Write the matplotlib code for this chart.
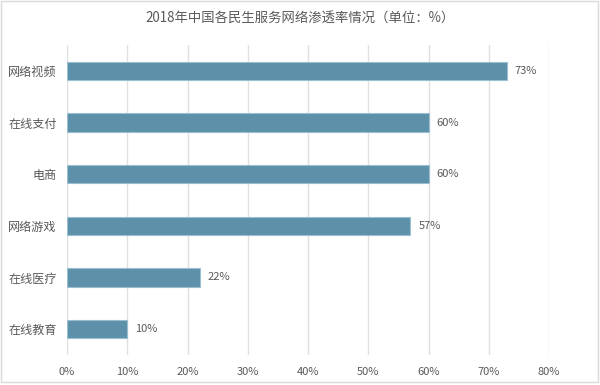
import matplotlib
matplotlib.use("Agg")
import matplotlib.pyplot as plt
from matplotlib.patches import Rectangle

plt.rcParams['font.family'] = ['Noto Sans CJK SC', 'DejaVu Sans']

categories = ["网络视频", "在线支付", "电商", "网络游戏", "在线医疗", "在线教育"]
values = [73, 60, 60, 57, 22, 10]
ticks = [0, 10, 20, 30, 40, 50, 60, 70, 80]
tick_labels = [f"{t}%" for t in ticks]

fig = plt.figure(figsize=(6, 3.85), dpi=100)
ax = fig.add_axes([0.1117, 0.078, 0.8033, 0.805])

ypos = list(range(len(categories)))
ax.barh(ypos, values, height=0.35, color="#5d90a9", edgecolor="#9bbfd0", linewidth=0.8, zorder=3)
for y, v in zip(ypos, values):
    ax.text(v + 1.3, y, f"{v}%", va="center", ha="left", fontsize=8, color="#595959")

ax.set_xlim(0, 80)
ax.set_ylim(len(categories) - 0.5, -0.5)
ax.set_xticks(ticks)
ax.set_xticklabels(tick_labels)
ax.set_yticks(ypos)
ax.set_yticklabels(categories)
ax.grid(axis="x", color="#e0e0e0", linewidth=1, zorder=0)
ax.tick_params(axis="both", length=0, labelsize=8, labelcolor="#595959")
ax.tick_params(axis="y", labelsize=8.7, pad=7.5)
ax.tick_params(axis="x", pad=9)
for s in ax.spines.values():
    s.set_visible(False)

fig.text(0.5, 0.953, "2018年中国各民生服务网络渗透率情况（单位：%）", ha="center", va="center",
         fontsize=9.6, color="#595959")

fig.patches.append(Rectangle((0.001, 0.008), 0.995, 0.99, transform=fig.transFigure,
                             fill=False, edgecolor="#d9d9d9", linewidth=1))

fig.savefig("out.png", dpi=100)
